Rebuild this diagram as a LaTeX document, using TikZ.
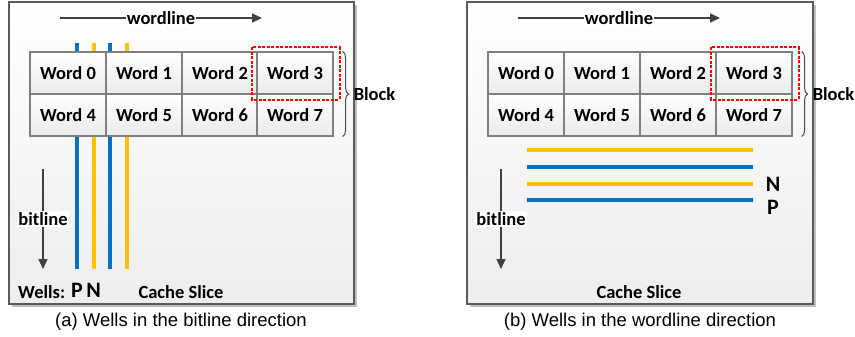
\documentclass[tikz,border=0pt]{standalone}
\usepackage{fontspec}
\setmainfont{Carlito}
\newfontfamily\capfont{Liberation Sans}
\usetikzlibrary{arrows.meta,decorations.pathreplacing}
\definecolor{wblue}{HTML}{0070C0}
\definecolor{wyel}{HTML}{FFC000}
\definecolor{arrowgray}{HTML}{404040}
\definecolor{boxborder}{HTML}{5A5A5A}
\definecolor{cellborder}{HTML}{808080}
\tikzset{
  x=1pt,y=1pt,
  slice/.style={draw=boxborder,line width=1.4pt,top color=white,bottom color=black!7},
  shadowbox/.style={fill=black!25},
  cell/.style={draw=cellborder,line width=1.1pt,minimum width=76pt,minimum height=42pt,
    top color=white,bottom color=black!8,inner sep=0pt,font=\fontsize{18.5}{20}\selectfont\bfseries},
  lbl/.style={font=\fontsize{18.5}{20}\selectfont\bfseries,inner sep=1pt},
  big/.style={font=\fontsize{22}{24}\selectfont\bfseries,inner sep=1pt},
  caption/.style={font=\capfont\fontsize{18.5}{20}\selectfont,inner sep=0pt},
  dirarrow/.style={draw=arrowgray,line width=1.4pt,-{Triangle[length=10pt,width=9pt]}},
  wellb/.style={draw=wblue,line width=4pt},
  welly/.style={draw=wyel,line width=4pt},
  reddash/.style={draw=red,line width=2pt,dash pattern=on 3pt off 1.5pt},
  bracestyle/.style={draw=black!70,line width=1pt,decorate,decoration={brace,amplitude=6pt}},
}
\begin{document}
\begin{tikzpicture}
\useasboundingbox (0,0) rectangle (855,-337);
% ===== Panel (a) =====
\fill[shadowbox] (12,-5) rectangle (357,-307);
\path[slice] (9,-2) rectangle (354,-304);
\coordinate (wla) at (60,-18);
\coordinate (wlb) at (262,-18);
\draw[dirarrow] (wla) -- node[lbl,fill=white] (wltxt) {wordline} (wlb);
% wells (vertical)
\draw[wellb] (77,-43) -- (77,-269);
\draw[welly] (93.5,-43) -- (93.5,-269);
\draw[wellb] (110,-43) -- (110,-269);
\draw[welly] (127,-43) -- (127,-269);
% cells
\node[cell] (a0) at (68,-73) {Word 0};
\node[cell] (a1) at (144,-73) {Word 1};
\node[cell] (a2) at (220,-73) {Word 2};
\node[cell] (a3) at (295,-73) {Word 3};
\node[cell] (a4) at (68,-115) {Word 4};
\node[cell] (a5) at (144,-115) {Word 5};
\node[cell] (a6) at (220,-115) {Word 6};
\node[cell] (a7) at (295,-115) {Word 7};
\draw[reddash] ([shift={(-4,4)}]a3.north west) rectangle ([shift={(6,-5)}]a3.south east);
\draw[bracestyle] ([xshift=9pt]a3.north east) -- ([xshift=9pt]a7.south east) coordinate[midway,xshift=10pt] (abr);
\node[lbl,anchor=west] (ablock) at (abr) {Block};
\coordinate (bla) at (43,-169);
\coordinate (blb) at (43,-269);
\draw[dirarrow] (bla) -- node[lbl,fill=white] (bltxt) {bitline} (blb);
\node[lbl,anchor=west] (wells) at (17,-292) {Wells:};
\node[big] (ap) at (77,-290) {P};
\node[big] (an) at (93.5,-290) {N};
\node[lbl] (aslice) at (181,-292) {Cache Slice};
\node[caption] (capa) at (181,-322) {(a) Wells in the bitline direction};
% ===== Panel (b) =====
\fill[shadowbox] (470,-5) rectangle (816,-307);
\path[slice] (467,-2) rectangle (813,-304);
\coordinate (wlc) at (518,-18);
\coordinate (wld) at (720,-18);
\draw[dirarrow] (wlc) -- node[lbl,fill=white] (wltxtb) {wordline} (wld);
\node[cell] (b0) at (526,-73) {Word 0};
\node[cell] (b1) at (602,-73) {Word 1};
\node[cell] (b2) at (678,-73) {Word 2};
\node[cell] (b3) at (754,-73) {Word 3};
\node[cell] (b4) at (526,-115) {Word 4};
\node[cell] (b5) at (602,-115) {Word 5};
\node[cell] (b6) at (678,-115) {Word 6};
\node[cell] (b7) at (754,-115) {Word 7};
\draw[reddash] ([shift={(-4,4)}]b3.north west) rectangle ([shift={(6,-5)}]b3.south east);
\draw[bracestyle] ([xshift=9pt]b3.north east) -- ([xshift=9pt]b7.south east) coordinate[midway,xshift=10pt] (bbr);
\node[lbl,anchor=west] (bblock) at (bbr) {Block};
% wells (horizontal)
\draw[welly] (527,-150) -- (753,-150);
\draw[wellb] (527,-167) -- (753,-167);
\draw[welly] (527,-184) -- (753,-184);
\draw[wellb] (527,-200) -- (753,-200);
\node[big] (bn) at (773,-184) {N};
\node[big] (bp) at (773,-207) {P};
\coordinate (blc) at (501,-169);
\coordinate (bld) at (501,-269);
\draw[dirarrow] (blc) -- node[lbl,fill=white] (bltxtb) {bitline} (bld);
\node[lbl] (bslice) at (639,-292) {Cache Slice};
\node[caption] (capb) at (640,-322) {(b) Wells in the wordline direction};
\end{tikzpicture}
\end{document}
